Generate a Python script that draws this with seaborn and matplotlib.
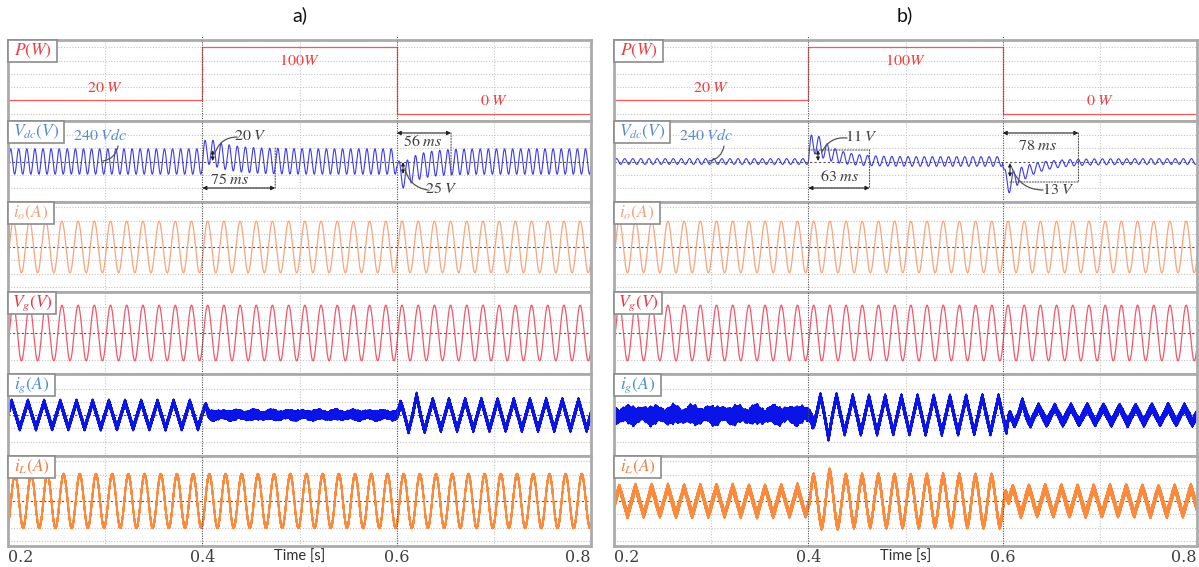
import numpy as np
import pandas as pd
import matplotlib
matplotlib.use("Agg")
import matplotlib.pyplot as plt
from matplotlib.patches import Rectangle
import seaborn as sns

sns.set_theme(style="white")
plt.rcParams["font.family"] = ["DejaVu Sans"]
plt.rcParams["mathtext.fontset"] = "stix"

FIG_W, FIG_H = 1199, 567

# ------------------------------------------------------------------ data
time_ticks = [0.2, 0.4, 0.6, 0.8]
step_times = [0.4, 0.6]
grid_freq = 60.0        # Hz
ripple_freq = 120.0     # DC-link ripple, Hz
switch_freq = 9973.0    # switching ripple, Hz

# active power reference (W)
p_times = [0.2, 0.4, 0.6, 0.8]
p_levels = [20, 100, 0, 0]
p_texts = [r"$20\ W$", r"$100W$", r"$0\ W$"]
p_text_levels = [40, 80, 20]

# DC-link voltage (V)
vdc_nominal = 240.0
vdc_per_div = {"a": 12.5, "b": 5.5}
vdc_ripple = {"a": [12.0, 12.0, 12.0], "b": [1.2, 2.0, 1.2]}
vdc_extra_ripple = {"a": [0.0, 0.0], "b": [2.5, 3.0]}
vdc_deviation = {"a": [20.0, -25.0], "b": [11.0, -13.0]}
vdc_settling_ms = {"a": [75, 56], "b": [63, 78]}
vdc_ripple_peak = 0.411

# inverter output current and grid voltage (grid divisions)
io_amp, io_peak = 1.95, 0.2055
vg_amp, vg_peak = 2.1, 0.2055

# grid current i_g per interval [0.2-0.4, 0.4-0.6, 0.6-0.8]
ig_amp = {"a": [1.0, 0.08, 1.1], "b": [0.12, 1.35, 0.6]}
ig_band = {"a": [0.2, 0.33, 0.22], "b": [0.55, 0.25, 0.3]}
ig_peak = {"a": [0.2038, 0.2038, 0.6205], "b": [0.2124, 0.4124, 0.6203]}
ig_tri = {"a": [1.0, 1.0, 1.0], "b": [0.5, 1.0, 1.0]}
ig_rough = {"a": [0.0, 0.3, 0.0], "b": [0.45, 0.1, 0.2]}
ig_overshoot = {"a": [0.0, 0.0, 0.36], "b": [0.0, 0.3, 0.65]}
ig_overshoot_t = {"a": [0.2, 0.4, 0.6205], "b": [0.2, 0.4206, 0.6203]}

# inductor current i_L per interval
iL_amp = {"a": [2.0, 2.0, 2.0], "b": [1.05, 1.9, 1.0]}
iL_band = {"a": [0.07, 0.07, 0.07], "b": [0.28, 0.22, 0.3]}
iL_peak = {"a": [0.2072, 0.2072, 0.2072], "b": [0.2055, 0.422, 0.6271]}
iL_tri = {"a": [0.0, 0.0, 0.0], "b": [0.9, 0.4, 0.8]}
iL_rough = {"a": [0.0, 0.0, 0.0], "b": [0.2, 0.1, 0.2]}
iL_overshoot = {"a": [0.0, 0.0, 0.0], "b": [0.0, 0.2, 0.0]}
iL_overshoot_t = {"a": [0.2, 0.4, 0.6], "b": [0.2, 0.422, 0.6]}

# how each signal hands over between intervals: (delay, duration) in s
ig_blend = {"a": [(0.0, 0.010), (-0.003, 0.010)], "b": [(0.001, 0.008), (0.003, 0.006)]}
iL_blend = {"a": [(0.0, 0.004), (0.0, 0.004)], "b": [(0.0, 0.004), (0.001, 0.006)]}

# ------------------------------------------------------------------ signals
t = np.linspace(time_ticks[0], time_ticks[-1], 60001)


def smooth_step(x):
    x = np.clip(x, 0.0, 1.0)
    return x * x * (3 - 2 * x)


def interval_weights(blend):
    s = [smooth_step((t - ts - d) / w) for ts, (d, w) in zip(step_times, blend)]
    return [1 - s[0], s[0] * (1 - s[1]), s[1]]


def shaped(t_peak, tri_mix):
    ph = 2 * np.pi * grid_freq * (t - t_peak)
    tri = (2 / np.pi) * np.arcsin(np.cos(ph))
    return (1 - tri_mix) * np.cos(ph) + tri_mix * tri


sw = 0.75 * np.sin(2 * np.pi * switch_freq * t) + 0.25 * np.sin(2 * np.pi * 2.37 * switch_freq * t)
rough = (0.5 * np.sin(2 * np.pi * 47 * t) + 0.3 * np.sin(2 * np.pi * 173 * t + 1.0)
         + 0.2 * np.sin(2 * np.pi * 391 * t + 2.0))


def current_trace(amp, band, peak, tri, rgh, ov, ov_t, blend):
    w = interval_weights(blend)
    y = np.zeros_like(t)
    for k in range(3):
        env = amp[k] * (1 + ov[k] * np.exp(-((t - ov_t[k]) / 0.007) ** 2))
        wave = env * shaped(peak[k], tri[k]) + band[k] * (1 + rgh[k] * rough) * sw
        y += w[k] * wave
    return y


def settle_shape(ts, settle_s):
    dt = np.clip(t - ts, 0, None)
    g = (1 - np.exp(-dt / 0.0025)) * np.exp(-dt / (settle_s / 3.5))
    return g / g.max()


def vdc_trace(c):
    w = interval_weights([(0.0, 0.004), (0.0, 0.004)])
    amp = sum(w[k] * vdc_ripple[c][k] for k in range(3))
    phase = np.cos(2 * np.pi * ripple_freq * (t - vdc_ripple_peak))
    v = vdc_nominal + amp * phase
    for k, ts in enumerate(step_times):
        settle = vdc_settling_ms[c][k] / 1000
        g = settle_shape(ts, settle)
        base = v + vdc_extra_ripple[c][k] * g * phase
        target = vdc_deviation[c][k]
        win = (t >= ts) & (t <= ts + settle)

        def dev(D):
            d = base[win] + D * g[win] - vdc_nominal
            return d.max() if target > 0 else d.min()

        # offset size chosen so that the largest excursion equals the stated deviation
        lo, hi = 0.0, 2 * target
        for _ in range(60):
            mid = 0.5 * (lo + hi)
            if abs(dev(mid)) < abs(target):
                lo = mid
            else:
                hi = mid
        v = base + 0.5 * (lo + hi) * g
    return v


# ------------------------------------------------------------------ layout
GRID_PX = 13.25
group_px = {"a": (8, 591), "b": (614, 1197)}
title_px = {"a": (300, 15), "b": (905, 15)}
panel_px = [40, 121, 202, 292, 374, 456, 546]
FRAME = "#ababab"

labels = [r"$P(W)$", r"$V_{dc}(V)$", r"$i_o(A)$", r"$V_g(V)$", r"$i_g(A)$", r"$i_L(A)$"]
label_colors = ["#f03c3c", "#5a8ad0", "#f5a27c", "#ee2f3f", "#4a90d0", "#f08040"]
label_box_w = [49, 56, 46, 48, 47, 47]
line_colors = ["#f45a5a", "#3c3cf0", "#f9a47c", "#f4566a", "#0a14e6", "#fb8a3c"]
line_widths = [0.9, 0.8, 0.9, 0.9, 1.3, 1.3]

fig = plt.figure(figsize=(FIG_W / 100, FIG_H / 100), dpi=100)


def fx(x, y):
    return (x, FIG_H - y)


def dim_arrow(ax, t0, t1, y_px):
    ax.annotate("", xy=(t1, FIG_H - y_px), xycoords=("data", "figure pixels"),
                xytext=(t0, FIG_H - y_px), textcoords=("data", "figure pixels"),
                arrowprops=dict(arrowstyle="<|-|>", color="#222222", lw=0.8,
                                mutation_scale=6, shrinkA=0, shrinkB=0))


def bar_arrow(ax, x_px, y0, y1):
    ax.annotate("", xy=fx(x_px, y1), xycoords="figure pixels",
                xytext=fx(x_px, y0), textcoords="figure pixels",
                arrowprops=dict(arrowstyle="<|-|>", color="#222222", lw=0.8,
                                mutation_scale=5, shrinkA=0, shrinkB=0))


def connector(ax, p0, p1, rad):
    ax.annotate("", xy=fx(*p1), xycoords="figure pixels",
                xytext=fx(*p0), textcoords="figure pixels",
                arrowprops=dict(arrowstyle="-", color="#555555", lw=0.9,
                                connectionstyle=f"arc3,rad={rad}", shrinkA=0, shrinkB=0))


def dotted(ax, xs, ys_px):
    ax.annotate("", xy=(xs[1], FIG_H - ys_px[1]), xycoords=("data", "figure pixels"),
                xytext=(xs[0], FIG_H - ys_px[0]), textcoords=("data", "figure pixels"),
                arrowprops=dict(arrowstyle="-", color="#555555", lw=0.8, linestyle=(0, (1, 1.5)),
                                shrinkA=0, shrinkB=0))


def ftext(x, y, s, color="#404040", size=11.5, **kw):
    fig.text(x / FIG_W, 1 - y / FIG_H, s, color=color, fontsize=size,
             ha=kw.pop("ha", "center"), va=kw.pop("va", "center"), **kw)


for c in ["a", "b"]:
    left, right = group_px[c]
    signals = [
        None,
        vdc_trace(c),
        io_amp * shaped(io_peak, 0.0),
        vg_amp * shaped(vg_peak, 0.0),
        current_trace(ig_amp[c], ig_band[c], ig_peak[c], ig_tri[c], ig_rough[c],
                      ig_overshoot[c], ig_overshoot_t[c], ig_blend[c]),
        current_trace(iL_amp[c], iL_band[c], iL_peak[c], iL_tri[c], iL_rough[c],
                      iL_overshoot[c], iL_overshoot_t[c], iL_blend[c]),
    ]
    axes = []
    for i in range(6):
        top, bot = panel_px[i], panel_px[i + 1]
        h = bot - top
        ax = fig.add_axes([left / FIG_W, 1 - bot / FIG_H, (right - left) / FIG_W, h / FIG_H])
        axes.append(ax)
        half = h / 2 / GRID_PX
        if i == 0:
            center, per = 50.0, 20.0
            ylim = (center - half * per, center + half * per)
            hlines = [(lv, False) for lv in range(0, 101, 20)]
            sns.lineplot(x=p_times, y=p_levels, ax=ax, color=line_colors[0], lw=line_widths[0],
                         drawstyle="steps-post", estimator=None, errorbar=None, legend=False)
        else:
            if i == 1:
                center, per = vdc_nominal, vdc_per_div[c]
            else:
                center, per = 0.0, 1.0
            ylim = (center - half * per, center + half * per)
            hlines = [(center + k * per, k == 0) for k in range(-3, 4) if abs(k) < half - 0.2]
            sns.lineplot(x=t, y=signals[i], ax=ax, color=line_colors[i], lw=line_widths[i],
                         estimator=None, errorbar=None, sort=False, legend=False)
        for yv, dark in hlines:
            if dark:
                ax.axhline(yv, color="#555555", lw=0.8, ls=(0, (2, 2)), zorder=1)
            else:
                ax.axhline(yv, color="#c4c4c4", lw=0.8, ls=(0, (1, 1.5)), zorder=1)
        for tv in [0.3, 0.5, 0.7]:
            ax.axvline(tv, color="#c4c4c4", lw=0.8, ls=(0, (1, 1.5)), zorder=1)
        for tv in step_times:
            ax.axvline(tv, color="#505050", lw=0.8, ls=(0, (1, 1.2)), zorder=3)
        if i == 0:
            for tv in step_times:
                ax.plot([tv, tv], [1, 1 + 5 / h], transform=ax.get_xaxis_transform(),
                        color="#505050", lw=0.8, ls=(0, (1, 1.2)), clip_on=False)
        ax.set_xlim(time_ticks[0], time_ticks[-1])
        ax.set_ylim(*ylim)
        ax.set_xticks([])
        ax.set_yticks([])
        ax.set_xlabel("")
        ax.set_ylabel("")
        for sp in ax.spines.values():
            sp.set_color(FRAME)
            sp.set_linewidth(2.0)
        # label box in the upper-left corner
        bw, bh = label_box_w[i], 22
        ax.add_patch(Rectangle((0, 1 - bh / h), bw / (right - left), bh / h, transform=ax.transAxes,
                               facecolor="white", edgecolor="#8c8c8c", lw=1.2, zorder=6, clip_on=False))
        ax.text(bw / 2 / (right - left), 1 - bh / 2 / h, labels[i], transform=ax.transAxes,
                color=label_colors[i], fontsize=12.5, ha="center", va="center", zorder=7)

    # power annotations
    axp = axes[0]
    for k, (s, lv) in enumerate(zip(p_texts, p_text_levels)):
        axp.text((p_times[k] + p_times[k + 1]) / 2, lv, s, color="#f03c3c", fontsize=11.5,
                 ha="center", va="center")

    # DC-link annotations
    axv = axes[1]

    def px_t(x):
        return time_ticks[0] + (x - left) / (right - left) * (time_ticks[-1] - time_ticks[0])

    ftext(left + 92, 135, r"$240\ Vdc$", color="#5a8ad0")
    connector(axv, (left + 110, 146), (left + 95, 161), -0.35)
    st = [s / 1000 for s in vdc_settling_ms[c]]
    if c == "a":
        ftext(250, 136, r"$20\ V$")
        connector(axv, (237, 137), (215, 153), 0.35)
        bar_arrow(axv, 212.7, 150, 161)
        ftext(441, 189, r"$25\ V$")
        connector(axv, (405, 168), (428, 190), 0.35)
        bar_arrow(axv, 403, 162, 174)
        dim_arrow(axv, step_times[0], step_times[0] + st[0], 188)
        dotted(axv, [step_times[0] + st[0]] * 2, [148, 188])
        ftext(230, 180, r"$%d\ ms$" % vdc_settling_ms[c][0])
        dim_arrow(axv, step_times[1], step_times[1] + st[1], 133)
        dotted(axv, [step_times[1] + st[1]] * 2, [133, 175])
        ftext(423, 142, r"$%d\ ms$" % vdc_settling_ms[c][1])
    else:
        ftext(861, 137, r"$11\ V$")
        connector(axv, (847, 138), (822, 152), 0.35)
        bar_arrow(axv, 818, 150, 161)
        ftext(1058, 190, r"$13\ V$")
        connector(axv, (1012, 168), (1043, 190), 0.35)
        bar_arrow(axv, 1010, 163, 177)
        dim_arrow(axv, step_times[0], step_times[0] + st[0], 188)
        dotted(axv, [step_times[0] + st[0]] * 2, [150, 188])
        dotted(axv, [step_times[0], step_times[0] + st[0]], [150, 150])
        ftext(840, 177, r"$%d\ ms$" % vdc_settling_ms[c][0])
        dim_arrow(axv, step_times[1], step_times[1] + st[1], 133)
        dotted(axv, [step_times[1] + st[1]] * 2, [133, 182])
        dotted(axv, [px_t(1010), step_times[1] + st[1]], [182, 182])
        ftext(1038, 146, r"$%d\ ms$" % vdc_settling_ms[c][1])

    # time axis labels
    for tv in time_ticks:
        xpx = left + (tv - time_ticks[0]) / (time_ticks[-1] - time_ticks[0]) * (right - left)
        ha = "left" if tv == time_ticks[0] else ("right" if tv == time_ticks[-1] else "center")
        ftext(xpx, 557, f"{tv:.1f}", color="#404040", size=11.5, ha=ha, family="DejaVu Serif")
    ftext((left + right) / 2, 557, "Time [s]", color="#303030", size=10.5, family="Lato")
    ftext(*title_px[c], f"{c})", color="#111111", size=14, family="Lato")

fig.savefig("out.png", dpi=100)
